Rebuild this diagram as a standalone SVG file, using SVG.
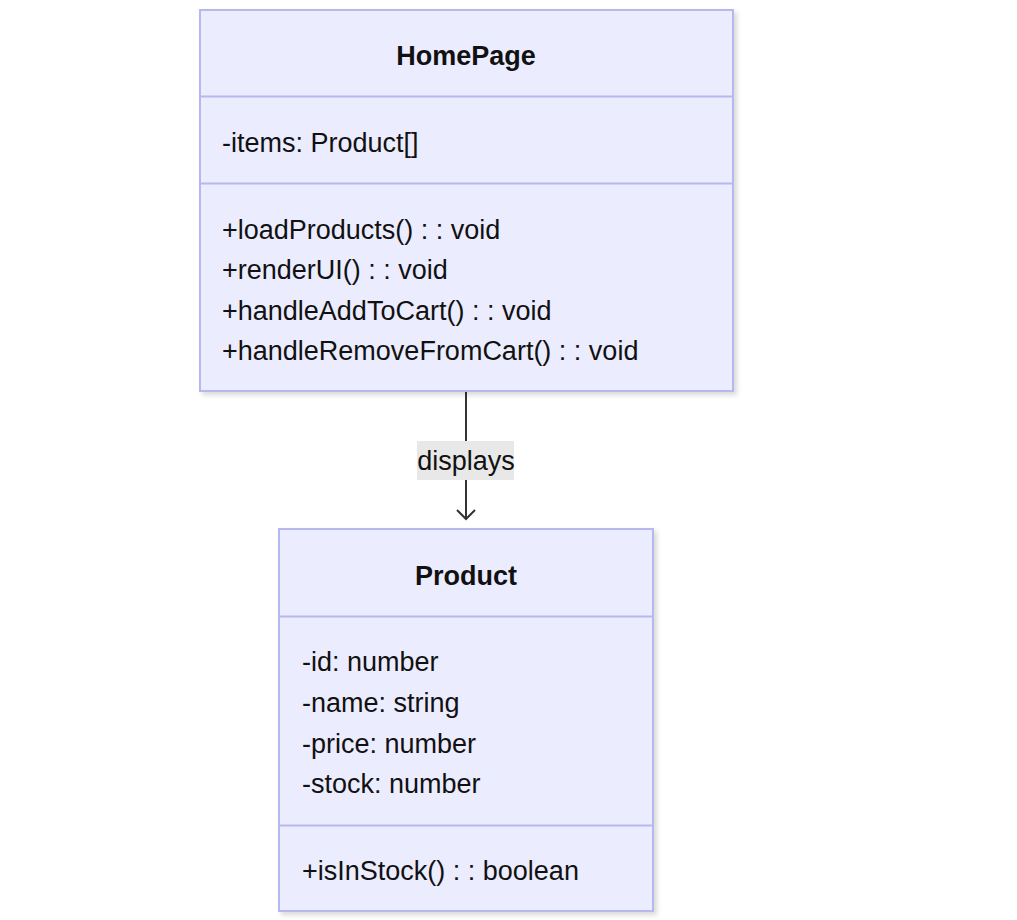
<svg xmlns="http://www.w3.org/2000/svg" width="1017" height="920" viewBox="0 0 1017 920">
<style>
.box{fill:#ECECFF;stroke:#B8B8F0;stroke-width:2;filter:url(#sh)}
.div{stroke:#B8B8F0;stroke-width:2}
.t{font-family:"Liberation Sans",Arial,sans-serif;font-size:27px;fill:#111}
.title{font-weight:bold;text-anchor:middle}
.edge{stroke:#333;stroke-width:2;fill:none}
</style>
<defs>
<filter id="sh" x="-10%" y="-10%" width="120%" height="120%">
<feDropShadow dx="3" dy="3" stdDeviation="2.5" flood-color="#000" flood-opacity="0.15"/>
</filter>
<marker id="arr" markerWidth="20" markerHeight="20" refX="10" refY="10" orient="auto" markerUnits="userSpaceOnUse">
<path d="M1,1 L10,10 L1,19" fill="none" stroke="#333" stroke-width="2"/>
</marker>
</defs>
<g id="connectors">
<line class="edge" x1="466" y1="392" x2="466" y2="519" marker-end="url(#arr)"/>
<rect x="417" y="441" width="97" height="39" fill="#E8E8E8"/>
<text class="t" x="466" y="470" text-anchor="middle">displays</text>
</g>
<g id="HomePage">
<rect class="box" x="200" y="10" width="533" height="381"/>
<line class="div" x1="200" y1="96.5" x2="733" y2="96.5"/>
<line class="div" x1="200" y1="183.5" x2="733" y2="183.5"/>
<text class="t title" x="466" y="65">HomePage</text>
<text class="t" x="222" y="152">-items: Product[]</text>
<text class="t" x="222" y="239">+loadProducts() : : void</text>
<text class="t" x="222" y="279">+renderUI() : : void</text>
<text class="t" x="222" y="320">+handleAddToCart() : : void</text>
<text class="t" x="222" y="360">+handleRemoveFromCart() : : void</text>
</g>
<g id="Product">
<rect class="box" x="279" y="529" width="374" height="382"/>
<line class="div" x1="279" y1="616.5" x2="653" y2="616.5"/>
<line class="div" x1="279" y1="825.5" x2="653" y2="825.5"/>
<text class="t title" x="466" y="585">Product</text>
<text class="t" x="302" y="671">-id: number</text>
<text class="t" x="302" y="712">-name: string</text>
<text class="t" x="302" y="753">-price: number</text>
<text class="t" x="302" y="793">-stock: number</text>
<text class="t" x="302" y="880">+isInStock() : : boolean</text>
</g>
</svg>
